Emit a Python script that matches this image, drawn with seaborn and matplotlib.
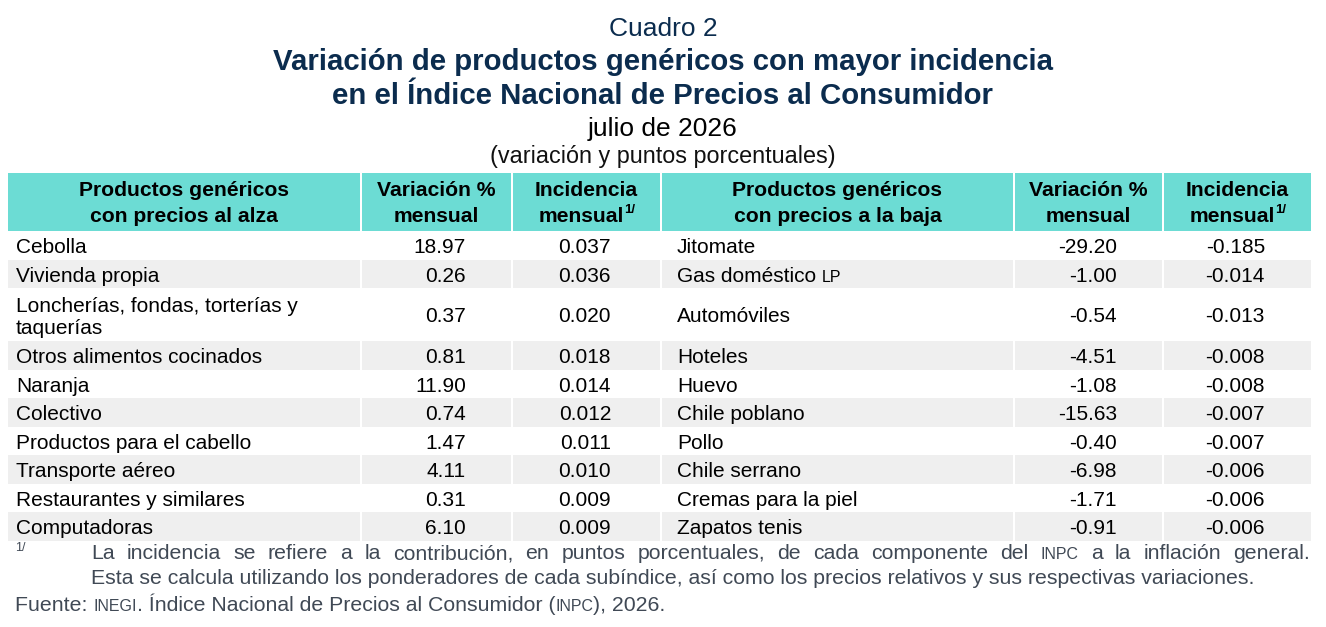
import matplotlib
matplotlib.use("Agg")
import matplotlib.pyplot as plt
from matplotlib.patches import Rectangle
import seaborn as sns

# data
up_products = ["Cebolla", "Vivienda propia", "Loncherías, fondas, torterías y\ntaquerías",
               "Otros alimentos cocinados", "Naranja", "Colectivo",
               "Productos para el cabello", "Transporte aéreo",
               "Restaurantes y similares", "Computadoras"]
up_variation = [18.97, 0.26, 0.37, 0.81, 11.90, 0.74, 1.47, 4.11, 0.31, 6.10]
up_incidence = [0.037, 0.036, 0.020, 0.018, 0.014, 0.012, 0.011, 0.010, 0.009, 0.009]

down_products = ["Jitomate", "Gas doméstico LP", "Automóviles", "Hoteles", "Huevo",
                 "Chile poblano", "Pollo", "Chile serrano", "Cremas para la piel",
                 "Zapatos tenis"]
down_variation = [-29.20, -1.00, -0.54, -4.51, -1.08, -15.63, -0.40, -6.98, -1.71, -0.91]
down_incidence = [-0.185, -0.014, -0.013, -0.008, -0.008, -0.007, -0.007, -0.006,
                  -0.006, -0.006]

header_up = "Productos genéricos\ncon precios al alza"
header_down = "Productos genéricos\ncon precios a la baja"
header_var = "Variación %\nmensual"

sns.set_theme(style="white")
plt.rcParams['font.family'] = ['Liberation Sans', 'DejaVu Sans']

W, H = 1326, 627
fig = plt.figure(figsize=(W / 100, H / 100), dpi=100)
ax = fig.add_axes([0, 0, 1, 1])
ax.set_xlim(0, W)
ax.set_ylim(H, 0)
ax.axis("off")

NAVY = "#0b2c4e"
TEAL = "#6cdcd4"
GREY = "#efefef"
NOTE = "#404955"
BODY_FS = 15
HEAD_FS = 15.2
SMALL_FS = 11.5

renderer = fig.canvas.get_renderer()


def width_of(t):
    return t.get_window_extent(renderer).width


def run(pieces, x, y, ha="left", color="black", weight="normal"):
    # pieces: list of (text, fontsize, dy) drawn one after another on a baseline
    objs = []
    for s, fs, dy in pieces:
        objs.append(ax.text(0, y - dy, s, fontsize=fs, color=color,
                            fontweight=weight, va="baseline", ha="left"))
    widths = [width_of(o) for o in objs]
    total = sum(widths)
    if ha == "center":
        x = x - total / 2
    elif ha == "right":
        x = x - total
    for o, w in zip(objs, widths):
        o.set_x(x)
        x += w


def justify(words, x0, x1, y, color):
    objs = [ax.text(0, y, s, fontsize=fs, color=color, va="baseline", ha="left")
            for s, fs in words]
    widths = [width_of(o) for o in objs]
    gap = (x1 - x0 - sum(widths)) / (len(objs) - 1)
    x = x0
    for o, w in zip(objs, widths):
        o.set_x(x)
        x += w + gap


# titles
ax.text(W / 2, 29, "Cuadro 2", fontsize=19, color=NAVY, ha="center", va="center")
ax.text(W / 2, 62, "Variación de productos genéricos con mayor incidencia",
        fontsize=21.2, fontweight="bold", color=NAVY, ha="center", va="center")
ax.text(W / 2, 96, "en el Índice Nacional de Precios al Consumidor",
        fontsize=21.2, fontweight="bold", color=NAVY, ha="center", va="center")
ax.text(W / 2, 129, "julio de 2026", fontsize=19, color="black", ha="center", va="center")
ax.text(W / 2, 157, "(variación y puntos porcentuales)", fontsize=16.8, color="#111111",
        ha="center", va="center")

# columns
cols = [(8, 360), (362, 511), (513, 660), (662, 1013), (1015, 1162), (1164, 1311)]
num_right = [None, 466, 611, None, 1117, 1265]
head_top, head_bot = 173, 231

for x0, x1 in cols:
    ax.add_patch(Rectangle((x0, head_top), x1 - x0, head_bot - head_top,
                           facecolor=TEAL, edgecolor="none"))

line1, line2 = 196, 222
for i, label in enumerate([header_up, header_var, None, header_down, header_var, None]):
    cx = (cols[i][0] + cols[i][1]) / 2
    if label is None:
        run([("Incidencia", HEAD_FS, 0)], cx, line1, ha="center", weight="bold")
        run([("mensual", HEAD_FS, 0), ("1/", 9.5, 9)], cx, line2, ha="center", weight="bold")
    else:
        a, b = label.split("\n")
        run([(a, HEAD_FS, 0)], cx, line1, ha="center", weight="bold")
        run([(b, HEAD_FS, 0)], cx, line2, ha="center", weight="bold")

# body rows
row_h, row_h2 = 28.5, 53.0
y = head_bot
for i in range(len(up_products)):
    h = row_h2 if "\n" in up_products[i] else row_h
    if i % 2 == 1:
        for x0, x1 in cols:
            ax.add_patch(Rectangle((x0, y), x1 - x0, h, facecolor=GREY, edgecolor="none"))
    mid = y + h / 2
    base = mid + 8
    lines = up_products[i].split("\n")
    if len(lines) == 2:
        run([(lines[0], BODY_FS, 0)], 16, base - 11)
        run([(lines[1], BODY_FS, 0)], 16, base + 11)
    else:
        run([(lines[0], BODY_FS, 0)], 16, base)
    run([(f"{up_variation[i]:.2f}", BODY_FS, 0)], num_right[1], base, ha="right")
    run([(f"{up_incidence[i]:.3f}", BODY_FS, 0)], num_right[2], base, ha="right")

    name = down_products[i]
    if name.endswith(" LP"):
        run([(name[:-2], BODY_FS, 0), ("LP", SMALL_FS, 0)], 677, base)
    else:
        run([(name, BODY_FS, 0)], 677, base)
    run([(f"{down_variation[i]:.2f}", BODY_FS, 0)], num_right[4], base, ha="right")
    run([(f"{down_incidence[i]:.3f}", BODY_FS, 0)], num_right[5], base, ha="right")
    y += h

# notes
NOTE_FS = 15.3
ax.text(15, 551, "1/", fontsize=9, color=NOTE, ha="left", va="baseline")
note1 = ("La incidencia se refiere a la contribución, en puntos porcentuales, de cada "
         "componente del INPC a la inflación general.").split(" ")
justify([(w, SMALL_FS if w == "INPC" else NOTE_FS) for w in note1], 91, 1310, 559, NOTE)
run([("Esta se calcula utilizando los ponderadores de cada subíndice, así como los "
      "precios relativos y sus respectivas variaciones.", NOTE_FS, 0)], 91, 584, color=NOTE)
run([("Fuente: ", NOTE_FS, 0), ("INEGI", SMALL_FS, 0),
     (". Índice Nacional de Precios al Consumidor (", NOTE_FS, 0), ("INPC", SMALL_FS, 0),
     ("), 2026.", NOTE_FS, 0)], 15, 611, color=NOTE)

fig.savefig("out.png", dpi=100)
